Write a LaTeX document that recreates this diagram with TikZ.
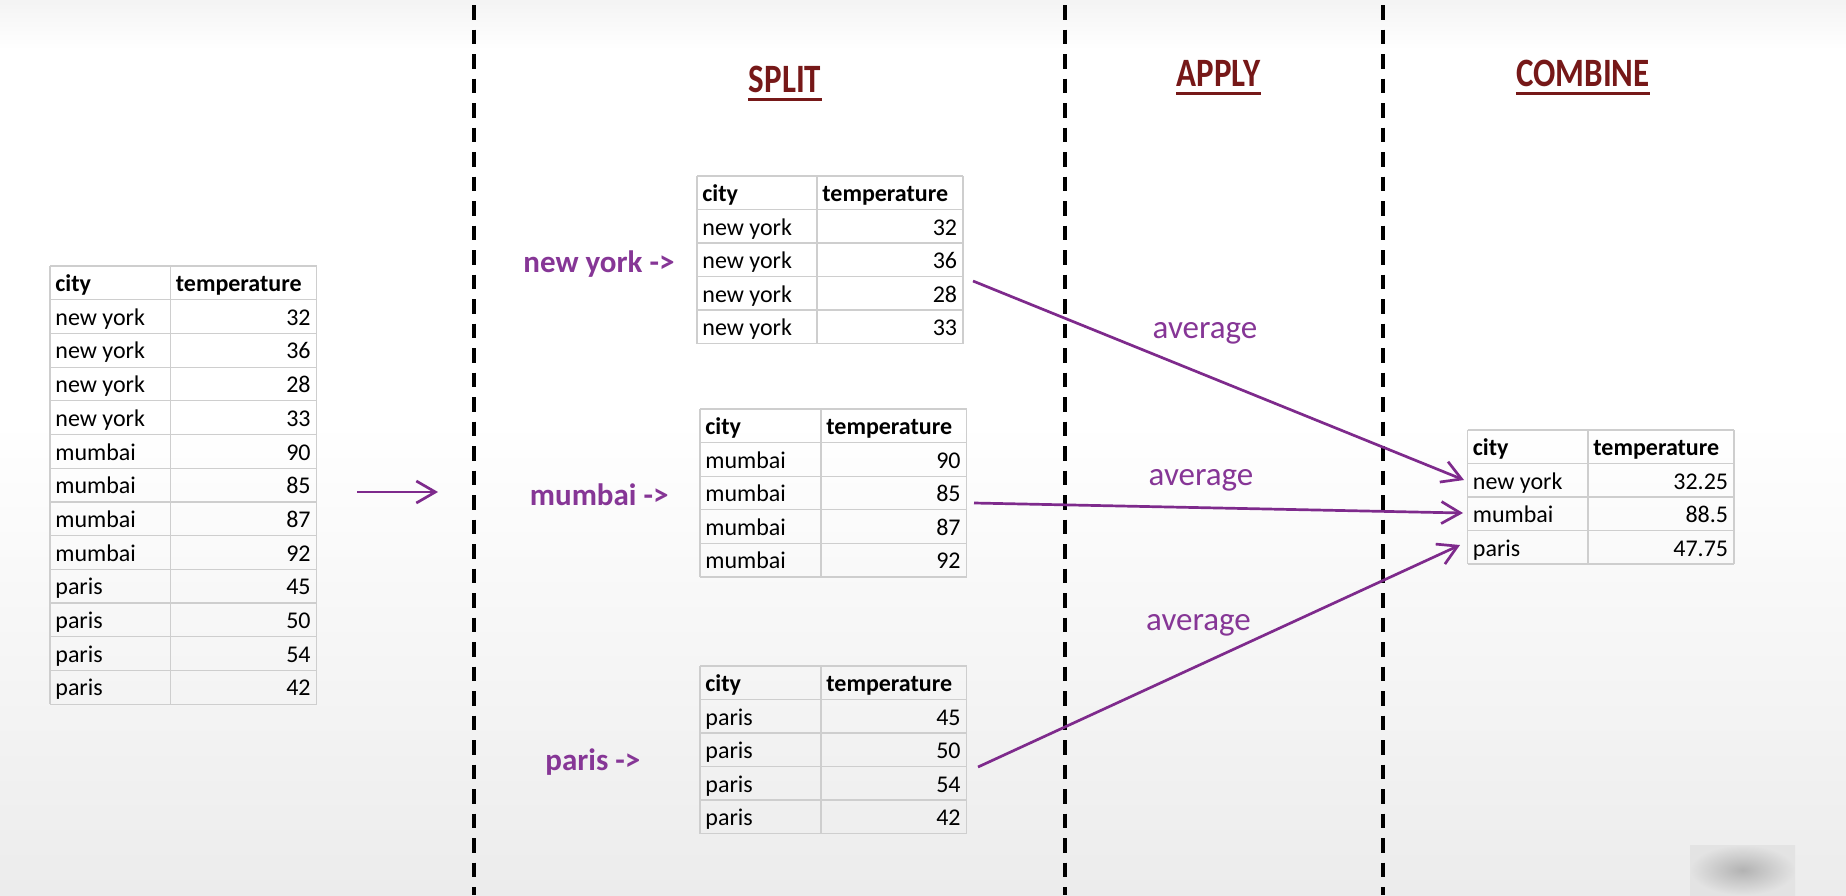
\documentclass[tikz,border=0pt]{standalone}
\usepackage{fontspec}
\usepackage{graphicx}
\setmainfont{Carlito}
\usetikzlibrary{arrows.meta}
\definecolor{gridc}{RGB}{206,206,206}
\definecolor{purp}{RGB}{126,42,140}
\definecolor{purpl}{RGB}{134,54,150}
\definecolor{hdr}{RGB}{118,24,24}
\tikzset{
  cellL/.style={anchor=base west, inner sep=0pt, font=\fontsize{12}{14}\selectfont},
  cellR/.style={anchor=base east, inner sep=0pt, font=\fontsize{12}{14}\selectfont},
  cellH/.style={anchor=base west, inner sep=0pt, font=\fontsize{12}{14}\selectfont\bfseries},
  gridline/.style={draw=gridc, line width=0.6pt},
  divider/.style={line width=1.7pt, dash pattern=on 7.25pt off 5pt, dash phase=9.75pt},
  flow/.style={draw=purp, line width=1.35pt, -{Straight Barb[length=9.5pt,width=11pt,line width=1.35pt]}},
  grouplabel/.style={anchor=base west, inner sep=0pt, text=purpl, font=\fontsize{15.5}{18}\selectfont\bfseries},
  avglabel/.style={anchor=base, inner sep=0pt, text=purpl, font=\fontsize{16.5}{19}\selectfont},
  stagehead/.style={anchor=base, inner sep=0pt, text=hdr, font=\fontsize{16.5}{19}\selectfont\bfseries},
  headline/.style={draw=hdr, line width=1.7pt},
}
% name, x0, xdiv, x1, y0, row height, rows
\newcommand{\datatable}[7]{%
  \node[cellH] (#1-hc) at (#2+5, #5+25.5) {city};
  \node[cellH] (#1-ht) at (#3+5, #5+25.5) {temperature};
  \draw[gridline] (#2,#5) -- (#4,#5);
  \draw[gridline] (#2,#5) -- (#2,#5+#6) (#3,#5) -- (#3,#5+#6) (#4,#5) -- (#4,#5+#6);
  \draw[gridline] (#2,#5+#6) -- (#4,#5+#6);
  \foreach [count=\i] \c/\t in {#7} {
    \node[cellL] (#1-c\i) at (#2+5, #5+\i*#6+25.5) {\c};
    \node[cellR] (#1-t\i) at (#4-5.5, #5+\i*#6+25.5) {\t};
    \draw[gridline] (#2, #5+\i*#6) -- (#2, #5+\i*#6+#6)
                    (#3, #5+\i*#6) -- (#3, #5+\i*#6+#6)
                    (#4, #5+\i*#6) -- (#4, #5+\i*#6+#6);
    \draw[gridline] (#2, #5+\i*#6+#6) -- (#4, #5+\i*#6+#6);
  }%
}
\newcommand{\tallhead}[1]{\scalebox{1}[1.22]{#1}}
\begin{document}
\begin{tikzpicture}[x=0.5pt,y=-0.5pt]
\useasboundingbox (0,0) rectangle (1846,895);
% background
\shade[top color=gray!9, bottom color=white] (0,0) rectangle (1846,50);
\fill[white] (0,50) rectangle (1846,420);
\shade[top color=white, bottom color=gray!15] (0,420) rectangle (1846,895);
\shade[inner color=gray!60, outer color=gray!22] (1690,845) rectangle (1795,895);

% dashed dividers
\coordinate (d1t) at (474,0);  \coordinate (d1b) at (474,895);
\coordinate (d2t) at (1065,0); \coordinate (d2b) at (1065,895);
\coordinate (d3t) at (1383,0); \coordinate (d3b) at (1383,895);
\draw[divider] (d1t) -- (d1b);
\draw[divider] (d2t) -- (d2b);
\draw[divider] (d3t) -- (d3b);

% stage headers
\node[stagehead] (split) at (785,92) {\tallhead{SPLIT}};
\node[stagehead] (apply) at (1218.5,86) {\tallhead{APPLY}};
\node[stagehead] (combine) at (1583,86) {\tallhead{COMBINE}};
\draw[headline] ([yshift=-3.6pt]split.base west) -- ([yshift=-3.6pt]split.base east);
\draw[headline] ([yshift=-3.6pt]apply.base west) -- ([yshift=-3.6pt]apply.base east);
\draw[headline] ([yshift=-3.6pt]combine.base west) -- ([yshift=-3.6pt]combine.base east);

% tables
\datatable{src}{50}{170.5}{316.5}{266}{33.7}{new york/32, new york/36, new york/28, new york/33, mumbai/90, mumbai/85, mumbai/87, mumbai/92, paris/45, paris/50, paris/54, paris/42}
\datatable{ny}{697}{817}{963}{176}{33.5}{new york/32, new york/36, new york/28, new york/33}
\datatable{mum}{700}{821}{966.5}{409}{33.6}{mumbai/90, mumbai/85, mumbai/87, mumbai/92}
\datatable{par}{700}{821}{966.5}{666}{33.5}{paris/45, paris/50, paris/54, paris/42}
\datatable{res}{1467.5}{1588}{1734}{430}{33.5}{new york/32.25, mumbai/88.5, paris/47.75}

% group labels
\node[grouplabel] (lny) at (523,272) {new york ->};
\node[grouplabel] (lmum) at (529.5,505) {mumbai ->};
\node[grouplabel] (lpar) at (545,770) {paris ->};

% average labels
\node[avglabel] (avg1) at (1205,338) {average};
\node[avglabel] (avg2) at (1201,485) {average};
\node[avglabel] (avg3) at (1198.5,630) {average};

% arrows
\coordinate (src-out) at (357,492);
\coordinate (split-in) at (438,492);
\draw[flow] (src-out) -- (split-in);
\coordinate (ny-out) at (973,281);
\coordinate (res-in1) at (1464,480);
\coordinate (mum-out) at (974,503);
\coordinate (res-in2) at (1463,513);
\coordinate (par-out) at (978,767);
\coordinate (res-in3) at (1460,545);
\draw[flow] (ny-out) -- (res-in1);
\draw[flow] (mum-out) -- (res-in2);
\draw[flow] (par-out) -- (res-in3);
\end{tikzpicture}
\end{document}
